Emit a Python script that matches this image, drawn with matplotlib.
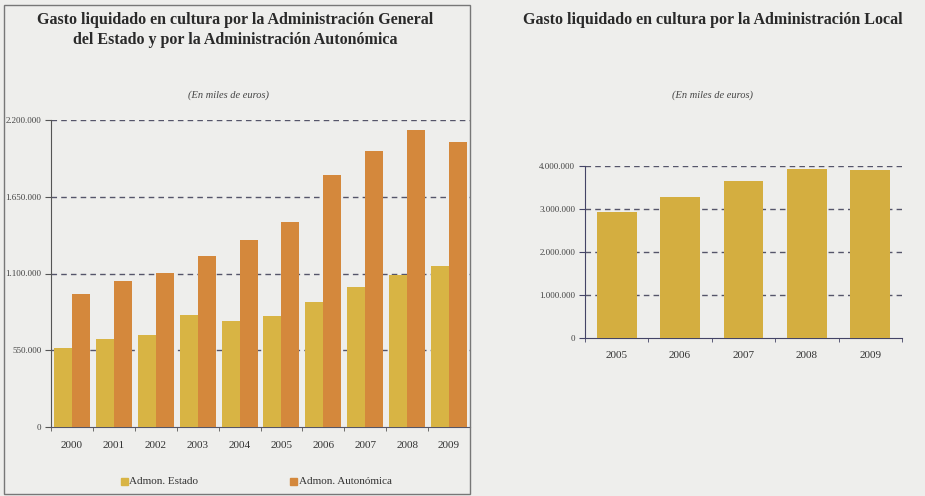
import numpy as np
import matplotlib.pyplot as plt
from matplotlib.patches import Rectangle

# left chart: gasto liquidado, miles de euros
years_left = ['2000', '2001', '2002', '2003', '2004', '2005', '2006', '2007', '2008', '2009']
estado = [565000, 633000, 657000, 805000, 757000, 795000, 896000, 1006000, 1092000, 1154000]
autonomica = [951000, 1046000, 1101000, 1228000, 1340000, 1469000, 1806000, 1975000, 2126000, 2042000]
left_ticks = [0, 550000, 1100000, 1650000, 2200000]
left_tick_labels = ['0', '550.000', '1.100.000', '1.650.000', '2.200.000']

# right chart: administracion local
years_right = ['2005', '2006', '2007', '2008', '2009']
local = [2940000, 3280000, 3660000, 3930000, 3910000]
right_ticks = [0, 1000000, 2000000, 3000000, 4000000]
right_tick_labels = ['0', '1.000.000', '2.000.000', '3.000.000', '4.000.000']

bg = '#eeeeec'
c_estado = '#d8b444'
c_auto = '#d4883c'
c_local = '#d4ae40'
grid_c = '#55556a'

plt.rcParams['font.family'] = ['Liberation Serif', 'DejaVu Serif']

fig = plt.figure(figsize=(9.25, 4.96), dpi=100, facecolor=bg)
W, H = 925, 496


def axes_px(x0, y0, x1, y1):
    return fig.add_axes([x0 / W, 1 - y1 / H, (x1 - x0) / W, (y1 - y0) / H])


# frame around left panel
fig.patches.append(Rectangle((4 / W, 1 - 494 / H), 466 / W, 489 / H, transform=fig.transFigure,
                             fill=False, edgecolor='#777777', linewidth=1))

ax1 = axes_px(51, 120, 470, 427)
ax1.set_facecolor(bg)
x = np.arange(len(years_left))
bw = 0.43
ax1.bar(x - bw / 2, estado, bw, color=c_estado, zorder=3)
ax1.bar(x + bw / 2, autonomica, bw, color=c_auto, zorder=3)
ax1.set_xlim(-0.5, len(years_left) - 0.5)
ax1.set_ylim(0, 2200000)
ax1.set_yticks(left_ticks)
ax1.set_yticklabels(left_tick_labels, fontsize=6.5, color='#444444')
ax1.set_xticks(x)
ax1.set_xticklabels(years_left, fontsize=8, color='#333333')
ax1.set_xticks(np.arange(-0.5, len(years_left)), minor=True)
ax1.tick_params(axis='x', which='major', length=0, pad=10)
ax1.tick_params(axis='x', which='minor', length=3, color='#555555')
ax1.tick_params(axis='y', length=4, color='#555555', pad=3)
for v in left_ticks[1:]:
    ax1.axhline(v, color=grid_c, linestyle=(0, (4, 3)), linewidth=1, zorder=1)
for s in ['top', 'right']:
    ax1.spines[s].set_visible(False)
ax1.spines['left'].set_color('#555555')
ax1.spines['bottom'].set_color('#555566')

fig.text(235 / W, 1 - 20 / H, 'Gasto liquidado en cultura por la Administración General',
         ha='center', va='center', fontsize=11.5, fontweight='bold', color='#2a2a2a')
fig.text(235 / W, 1 - 40 / H, 'del Estado y por la Administración Autonómica',
         ha='center', va='center', fontsize=11.5, fontweight='bold', color='#2a2a2a')
fig.text(228 / W, 1 - 95 / H, '(En miles de euros)', ha='center', va='center',
         fontsize=7.5, style='italic', color='#444444')

# legend
fig.patches.append(Rectangle((121 / W, 1 - 485 / H), 7 / W, 7 / H, transform=fig.transFigure,
                             color=c_estado))
fig.text(129 / W, 1 - 481 / H, 'Admon. Estado', ha='left', va='center', fontsize=8, color='#333333')
fig.patches.append(Rectangle((290 / W, 1 - 485 / H), 7 / W, 7 / H, transform=fig.transFigure,
                             color=c_auto))
fig.text(299 / W, 1 - 481 / H, 'Admon. Autonómica', ha='left', va='center', fontsize=8, color='#333333')

# right chart
ax2 = axes_px(585, 166, 902, 338)
ax2.set_facecolor(bg)
x2 = np.arange(len(years_right))
ax2.bar(x2, local, 0.63, color=c_local, zorder=3)
ax2.set_xlim(-0.5, len(years_right) - 0.5)
ax2.set_ylim(0, 4000000)
ax2.set_yticks(right_ticks)
ax2.set_yticklabels(right_tick_labels, fontsize=6.5, color='#444444')
ax2.set_xticks(x2)
ax2.set_xticklabels(years_right, fontsize=8, color='#333333')
ax2.set_xticks(np.arange(-0.5, len(years_right)), minor=True)
ax2.tick_params(axis='x', which='major', length=0, pad=9)
ax2.tick_params(axis='x', which='minor', length=3, color='#444466')
ax2.tick_params(axis='y', length=4, color='#444466', pad=3)
for v in right_ticks[1:]:
    ax2.axhline(v, color=grid_c, linestyle=(0, (4, 3)), linewidth=1, zorder=1)
for s in ['top', 'right']:
    ax2.spines[s].set_visible(False)
ax2.spines['left'].set_color('#444466')
ax2.spines['bottom'].set_color('#444466')

fig.text(713 / W, 1 - 20 / H, 'Gasto liquidado en cultura por la Administración Local',
         ha='center', va='center', fontsize=11.5, fontweight='bold', color='#2a2a2a')
fig.text(713 / W, 1 - 95 / H, '(En miles de euros)', ha='center', va='center',
         fontsize=7.5, style='italic', color='#444444')

fig.savefig('out.png', dpi=100, facecolor=bg)
